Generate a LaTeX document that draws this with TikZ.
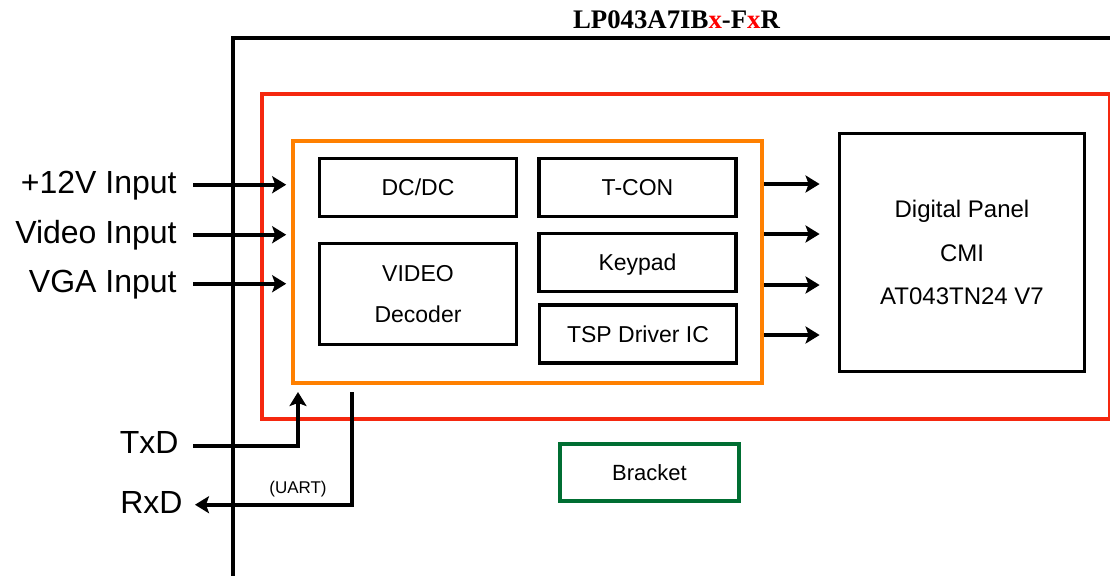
\documentclass[tikz,border=0pt]{standalone}
\usepackage{fontspec}
\setmainfont{Liberation Sans}
\newfontfamily\titlefont{Liberation Serif}
\usepackage{tikz}
\usetikzlibrary{arrows.meta}

\definecolor{boardred}{RGB}{245,40,15}
\definecolor{coreorange}{RGB}{255,128,0}
\definecolor{bracketgreen}{RGB}{0,110,50}

\begin{document}
\begin{tikzpicture}[x=.5pt,y=-.5pt,
  blk/.style={draw,line width=1.9pt,minimum width=98.5pt,minimum height=29pt,inner sep=0pt,text height=8.2pt,text depth=0pt,font=\fontsize{11.5}{14}\selectfont},
  multi/.style={draw,line width=1.9pt,inner sep=0pt,align=center},
  lbl/.style={inner sep=0pt,anchor=base east,font=\fontsize{16}{19}\selectfont},
  arr/.style={line width=1.9pt,-{Stealth[length=7pt,width=8.5pt,inset=1.5pt]}}]
%\draw[help lines] (0,0) grid[step=50pt] (1110,575);
\useasboundingbox (0,0) rectangle (1110,575);
\clip (0,0) rectangle (1110,575);

\node[anchor=base,inner sep=0pt,font={\titlefont\bfseries\fontsize{13.4}{16}\selectfont}] (title) at (676.5,28) {LP043A7IB\textcolor{red}{x}-F\textcolor{red}{x}R};

\draw[line width=2pt] (233,38) rectangle (1130,600);
\draw[boardred,line width=1.7pt] (262,94) rectangle (1110,419);
\node[draw=coreorange,line width=1.8pt,minimum width=234.5pt,minimum height=121pt] (core) at (527.5,262) {};

\node[blk] (dcdc) at (418,187.5) {DC/DC};
\node[blk] (tcon) at (637.5,187.5) {T-CON};
\node[blk] (keypad) at (637.5,262.5) {Keypad};
\node[blk] (tsp) at (638,334) {TSP Driver IC};
\node[multi,minimum width=98.5pt,minimum height=50.5pt,font=\fontsize{11.5}{20.5}\selectfont] (video) at (418,294) {VIDEO\\Decoder};

\node[multi,minimum width=122.5pt,minimum height=119pt,font=\fontsize{12}{21.75}\selectfont] (panel) at (962,252.5) {Digital Panel\\CMI\\AT043TN24 V7};

\node[blk,draw=bracketgreen,line width=2pt,minimum width=89.5pt,minimum height=28.5pt,text height=7.8pt,font=\fontsize{11}{13}\selectfont] (bracket) at (649.5,472.5) {Bracket};

\node[lbl] (pwr) at (177,193) {+12V Input};
\node[lbl] (vid) at (177,243) {Video Input};
\node[lbl] (vga) at (177,292) {VGA Input};
\node[lbl] (txd) at (179,453) {TxD};
\node[lbl] (rxd) at (183,513) {RxD};

\foreach \src in {pwr,vid,vga}
  \draw[arr,shorten <=8pt,shorten >=2.5pt] ([yshift=1.5pt]\src.mid east) -- ([yshift=1.5pt]\src.mid east -| core.west);

\foreach \yy in {184,234,285,335}
  \draw[arr,shorten >=9pt] (core.east |- 0,\yy) -- (panel.west |- 0,\yy);

\coordinate (txin) at (298,383);
\coordinate (rxout) at (352,383);
\draw[arr,shorten <=7pt,shorten >=4.5pt] ([yshift=1pt]txd.mid east) -| (txin);
\draw[arr,shorten <=4.5pt,shorten >=6pt] (rxout) |- ([yshift=1.5pt]rxd.mid east);
\node[inner sep=0pt,font=\fontsize{8.5}{10}\selectfont] (uart) at (298,489) {(UART)};
\end{tikzpicture}
\end{document}
